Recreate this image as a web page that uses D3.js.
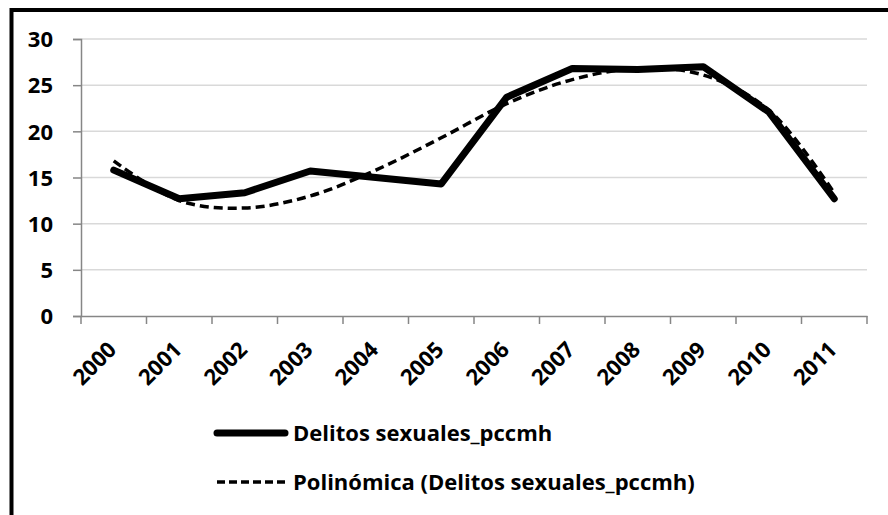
<!DOCTYPE html>
<html><head><meta charset="utf-8">
<script src="https://cdn.jsdelivr.net/npm/d3@7"></script>
<style>body{margin:0;background:#fff}svg{display:block}</style>
</head><body>
<script>
const years = ["2000","2001","2002","2003","2004","2005","2006","2007","2008","2009","2010","2011"];
const delitos = [15.8, 12.7, 13.35, 15.7, 15.0, 14.3, 23.7, 26.8, 26.7, 27.0, 22.1, 12.7];
const trend = [16.8, 12.5, 11.7, 13.0, 15.8, 19.3, 23.0, 25.6, 26.8, 26.1, 22.3, 13.3];
const yTicks = [0, 5, 10, 15, 20, 25, 30];
const seriesNames = ["Delitos sexuales_pccmh", "Polinómica (Delitos sexuales_pccmh)"];

const W = 888, H = 515;
const font = "'Open Sans', sans-serif";
const fs = 22;
const svg = d3.select("body").append("svg").attr("width", W).attr("height", H);
svg.append("rect").attr("width", W).attr("height", H).attr("fill", "#fff");
svg.append("rect").attr("x", 11.5).attr("y", 10).attr("width", 900).attr("height", 600)
  .attr("fill", "none").attr("stroke", "#000").attr("stroke-width", 4);

const x = d3.scaleBand().domain(years).range([81, 867]).paddingInner(0).paddingOuter(0);
const y = d3.scaleLinear().domain([0, 30]).range([316, 39]);

// gridlines
svg.append("g").selectAll("line").data(yTicks.filter(d => d > 0)).join("line")
  .attr("x1", 81).attr("x2", 867).attr("y1", d => y(d)).attr("y2", d => y(d))
  .attr("stroke", "#d9d9d9").attr("stroke-width", 1.5);

// y axis
const yAxis = svg.append("g").attr("transform", "translate(81,0)")
  .call(d3.axisLeft(y).tickValues(yTicks).tickSize(8).tickPadding(20));
yAxis.select(".domain").attr("stroke", "#868686").attr("stroke-width", 1.5);
yAxis.selectAll(".tick line").attr("stroke", "#868686").attr("stroke-width", 1.5);
yAxis.selectAll(".tick text").attr("font-family", font).attr("font-weight", "bold")
  .attr("font-size", fs).attr("fill", "#000").attr("dy", "0.35em");

// x axis
const xAxis = svg.append("g").attr("transform", "translate(0,316)")
  .call(d3.axisBottom(x).tickSize(0).tickFormat(""));
xAxis.select(".domain").attr("stroke", "#868686").attr("stroke-width", 1.5);
const bounds = years.map(d => x(d)).concat([x.range()[1]]);
svg.append("g").selectAll("line").data(bounds).join("line")
  .attr("x1", d => d).attr("x2", d => d).attr("y1", 316).attr("y2", 324)
  .attr("stroke", "#868686").attr("stroke-width", 1.5);
svg.append("g").selectAll("text").data(years).join("text")
  .attr("transform", d => `translate(${x(d) + x.bandwidth()/2 + 4},351) rotate(-45)`)
  .attr("text-anchor", "end").attr("font-family", font).attr("font-weight", "bold")
  .attr("font-size", fs).attr("fill", "#000").text(d => d);

const cx = d => x(d) + x.bandwidth() / 2;

// trend line (dashed)
const trendLine = d3.line().x((d, i) => cx(years[i])).y(d => y(d)).curve(d3.curveCatmullRom.alpha(0.5));
svg.append("path").datum(trend).attr("d", trendLine).attr("fill", "none")
  .attr("stroke", "#000").attr("stroke-width", 3.5).attr("stroke-dasharray", "9,5");

// main line
const mainLine = d3.line().x((d, i) => cx(years[i])).y(d => y(d));
svg.append("path").datum(delitos).attr("d", mainLine).attr("fill", "none")
  .attr("stroke", "#000").attr("stroke-width", 7).attr("stroke-linejoin", "round").attr("stroke-linecap", "round");

// legend
const leg = svg.append("g");
leg.append("line").attr("x1", 217).attr("x2", 285).attr("y1", 433).attr("y2", 433)
  .attr("stroke", "#000").attr("stroke-width", 7).attr("stroke-linecap", "round");
leg.append("line").attr("x1", 217).attr("x2", 287).attr("y1", 482).attr("y2", 482)
  .attr("stroke", "#000").attr("stroke-width", 3.5).attr("stroke-dasharray", "8,4");
leg.selectAll("text").data(seriesNames).join("text")
  .attr("x", 293).attr("y", (d, i) => 433 + i * 49).attr("dy", "0.35em")
  .attr("font-family", font).attr("font-weight", "bold").attr("font-size", fs).attr("fill", "#000")
  .text(d => d);
</script>
</body></html>
